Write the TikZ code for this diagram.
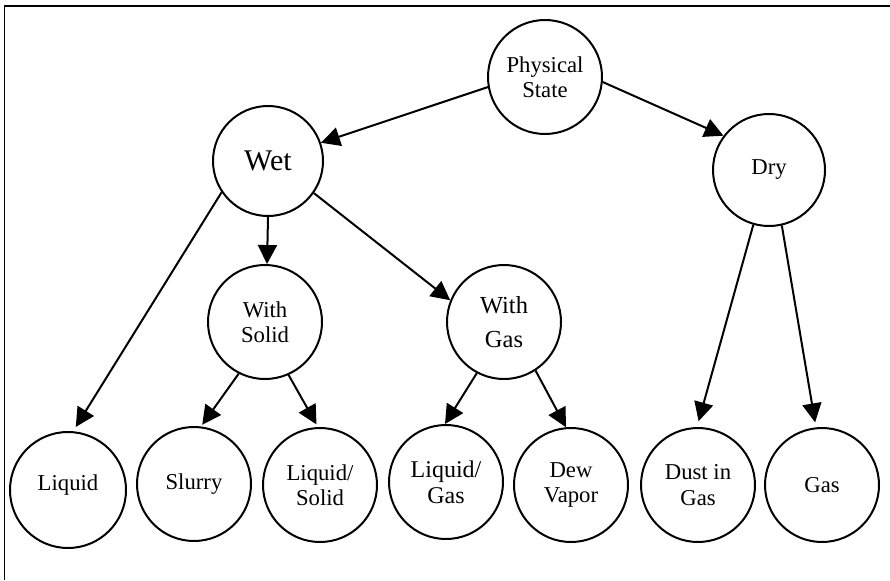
\documentclass[tikz,border=0pt]{standalone}
\usepackage{fontspec}
\setmainfont{Liberation Serif}
\usetikzlibrary{arrows.meta}
\begin{document}
\begin{tikzpicture}[x=1pt,y=-1pt,
  state/.style={circle, draw, line width=2pt, minimum size=114pt, inner sep=0pt,
    align=center, font=\fontsize{22.7}{25.5}\selectfont},
  link/.style={line width=2pt, -{Triangle[length=19pt,width=19pt]}},
  frame/.style={line width=1.5pt}
  ]
\useasboundingbox (0,0) rectangle (890,580);
\draw[frame] (4.5,580) -- (4.5,6) -- (890,6);

% top levels
\node[state] (ps) at (545,77) {Physical\\State};
\node[state, minimum size=110pt, font=\fontsize{30}{32}\selectfont] (wet) at (268,161) {Wet};
\node[state, minimum size=112pt] (dry) at (769,170) {Dry};

% wet subdivisions
\node[state] (wsolid) at (265,322) {With\\Solid};
\node[state, font=\fontsize{24.5}{34}\selectfont] (wgas) at (504,322) {With\\Gas};

% leaves
\node[state, minimum size=116pt] (liquid) at (68,490) {\raisebox{5pt}[\height][\depth]{Liquid}};
\node[state] (slurry) at (194,484) {Slurry};
\node[state] (lsolid) at (320,485) {Liquid/\\Solid};
\node[state, font=\fontsize{24}{26}\selectfont] (lgas) at (446,482) {Liquid/\\Gas};
\node[state] (dew) at (571,485) {Dew\\Vapor};
\node[state] (dust) at (698,485) {Dust in\\Gas};
\node[state] (gas) at (822,485) {Gas};

% connectors
\draw[link] (ps.190) -- (wet.19);
\draw[link] (ps.-5) -- (dry.143);
\draw[link, shorten >=5pt] (wet.214) -- (liquid.85);
\draw[link] (wet.270) -- (wsolid.88);
\draw[link] (wet.-35) -- (wgas.158);
\draw[link, shorten >=2pt] (wsolid.243) -- (slurry.83);
\draw[link, shorten >=3pt] (wsolid.-66) -- (lsolid.92);
\draw[link] (wgas.242) -- (lgas.91);
\draw[link] (wgas.-57) -- (dew.95);
\draw[link, shorten >=6pt] (dry.254) -- (dust.91);
\draw[link, shorten >=5pt] (dry.-77) -- (gas.96);
\end{tikzpicture}
\end{document}
